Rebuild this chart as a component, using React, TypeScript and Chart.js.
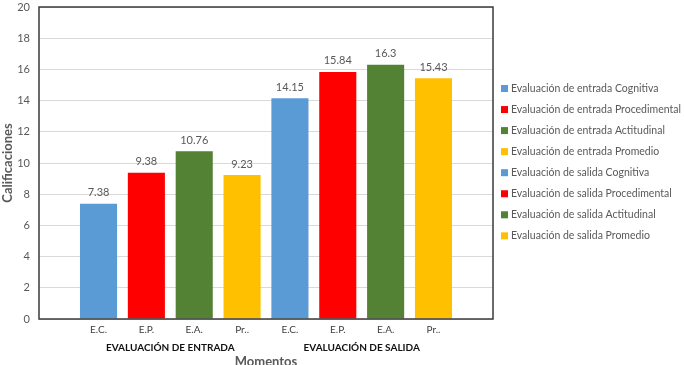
import React, { useEffect, useRef } from "react";
import { Chart, registerables } from "chart.js";

Chart.register(...registerables);

const CATEGORIES = ["E.C.", "E.P.", "E.A.", "Pr..", "E.C.", "E.P.", "E.A.", "Pr.."];
const GROUPS = ["EVALUACIÓN DE ENTRADA", "EVALUACIÓN DE SALIDA"];
const GROUP_CENTERS = [1.5, 5.5];
const SERIES_LABELS = [
  "Evaluación de entrada Cognitiva",
  "Evaluación de entrada Procedimental",
  "Evaluación de entrada Actitudinal",
  "Evaluación de entrada Promedio",
  "Evaluación de salida Cognitiva",
  "Evaluación de salida Procedimental",
  "Evaluación de salida Actitudinal",
  "Evaluación de salida Promedio",
];
const VALUES = [7.38, 9.38, 10.76, 9.23, 14.15, 15.84, 16.3, 15.43];
const COLORS = ["#5B9BD5", "#FF0000", "#548235", "#FFC000", "#5B9BD5", "#FF0000", "#548235", "#FFC000"];
const Y_MIN = 0;
const Y_MAX = 20;
const Y_STEP = 2;
const Y_TITLE = "Calificaciones";
const X_TITLE = "Momentos";

const FONT = "Lato, 'Open Sans', sans-serif";

const overlayPlugin = {
  id: "overlay",
  afterDraw(chart: any) {
    const ctx = chart.ctx;
    const area = chart.chartArea;
    const xs = chart.scales.x;
    ctx.save();
    // plot box
    ctx.strokeStyle = "#3a3a3a";
    ctx.lineWidth = 1.5;
    ctx.strokeRect(area.left, area.top, area.right - area.left, area.bottom - area.top);

    // value labels
    ctx.fillStyle = "#595959";
    ctx.font = `11px ${FONT}`;
    ctx.textAlign = "center";
    ctx.textBaseline = "middle";
    chart.data.datasets.forEach((ds: any, i: number) => {
      const el = chart.getDatasetMeta(i).data[0];
      if (!el) return;
      ctx.fillText(String(ds.data[0].y), el.x, el.y - 11);
    });

    // group labels
    ctx.fillStyle = "#111";
    ctx.font = `bold 10px ${FONT}`;
    GROUPS.forEach((g, i) => {
      ctx.fillText(g, xs.getPixelForValue(GROUP_CENTERS[i]), 348);
    });

    // x title
    ctx.fillStyle = "#595959";
    ctx.font = `bold 13px ${FONT}`;
    ctx.textBaseline = "alphabetic";
    ctx.fillText(X_TITLE, (area.left + area.right) / 2, 366);

    // legend
    ctx.font = `10.5px ${FONT}`;
    ctx.textAlign = "left";
    ctx.textBaseline = "middle";
    chart.data.datasets.forEach((ds: any, i: number) => {
      const y = 88.5 + i * 21.05;
      ctx.fillStyle = ds.backgroundColor;
      ctx.fillRect(501, y - 3.5, 7, 7);
      ctx.fillStyle = "#595959";
      ctx.fillText(ds.label, 511, y);
    });
    ctx.restore();
  },
};

export default function App() {
  const ref = useRef<HTMLCanvasElement | null>(null);

  useEffect(() => {
    if (!ref.current) return;
    const chart = new Chart(ref.current, {
      type: "bar",
      data: {
        datasets: SERIES_LABELS.map((label, i) => ({
          label,
          data: [{ x: i, y: VALUES[i] }],
          backgroundColor: COLORS[i],
          grouped: false,
          barPercentage: 0.775,
          categoryPercentage: 1,
        })) as any,
      },
      options: {
        animation: false,
        responsive: false,
        layout: { padding: { top: 7, right: 191, bottom: 0, left: 0 } },
        plugins: { legend: { display: false }, tooltip: { enabled: false } },
        scales: {
          x: {
            type: "linear",
            offset: false,
            min: -1.244,
            max: 8.244,
            grid: { display: false, drawTicks: false, offset: false },
            border: { display: false },
            afterBuildTicks: (scale: any) => {
              scale.ticks = CATEGORIES.map((_, i) => ({ value: i }));
            },
            afterFit: (scale: any) => {
              scale.height = 46;
            },
            ticks: {
              autoSkip: false,
              maxRotation: 0,
              padding: 5,
              color: "#404040",
              font: { family: FONT, size: 10 },
              callback: (v: any) => {
                const n = Number(v);
                return Number.isInteger(n) && n >= 0 && n < CATEGORIES.length ? CATEGORIES[n] : "";
              },
            },
          },
          y: {
            min: Y_MIN,
            max: Y_MAX,
            grid: { color: "#d9d9d9", drawTicks: false },
            border: { display: false },
            afterFit: (scale: any) => {
              scale.width = 39;
              scale.paddingTop = 0;
              scale.paddingBottom = 0;
            },
            ticks: {
              stepSize: Y_STEP,
              padding: 9,
              color: "#595959",
              font: { family: FONT, size: 11 },
            },
            title: {
              display: true,
              text: Y_TITLE,
              color: "#595959",
              font: { family: FONT, size: 13, weight: "bold" },
              padding: { top: 0, bottom: 0 },
            },
          },
        },
      } as any,
      plugins: [overlayPlugin],
    });
    return () => chart.destroy();
  }, []);

  return (
    <div style={{ position: "fixed", left: 0, top: 0, width: 684, height: 365, background: "#fff" }}>
      <canvas ref={ref} width={684} height={365} style={{ display: "block" }} />
    </div>
  );
}
